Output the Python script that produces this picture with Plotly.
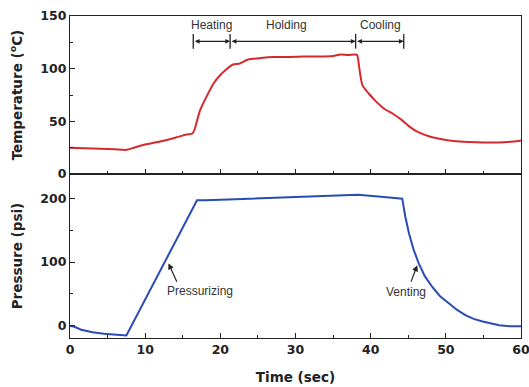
import plotly.graph_objects as go

# Temperature (deg C) vs time (s)
temp_t = [0, 2, 4, 6, 7.5, 8.5, 10, 12, 14, 15.5, 16.3, 16.6, 17.3, 18.2, 19.1, 20.0, 20.9, 21.7, 22.6, 23.6, 24.5, 25.7,
          27, 29, 31, 33, 35, 36, 37, 37.8, 38.2, 38.5, 38.9, 39.8, 40.7, 41.8, 43, 44.2, 45, 46, 47.3, 48.2,
          49.5, 51, 53, 55, 57, 59, 60]
temp_v = [25, 24.5, 24, 23.5, 23, 25, 28, 31, 34.5, 37.5, 38.5, 43, 60.5, 74, 86, 94, 100, 104, 105, 108.5, 109.5, 110.5,
          111, 111, 111.5, 111.5, 112, 113.5, 113, 113.5, 113, 100, 84.5, 76, 69, 62, 57, 51, 46, 41, 37, 35,
          33, 31.5, 30.5, 30, 30, 31, 32]

# Pressure (psi) vs time (s)
pres_t = [0, 0.5, 1.5, 3, 4.5, 6, 7.5, 16.9, 18, 22, 26, 30, 34, 38.3, 41, 44.2, 44.6, 45.1, 45.7, 46.4, 47.2, 48.2,
          49.2, 50.4, 51.5, 52.6, 53.7, 54.9, 56, 57.1, 58.5, 60]
pres_v = [0, -1, -6, -10, -12.5, -14, -15, 197, 197, 198.5, 200.5, 202, 203.5, 205.5, 203, 199.5, 172, 145, 120, 98,
          78, 61, 47, 35, 25, 17, 11, 7, 3.5, 1, -0.5, -0.5]

# Phase labels (top panel)
phase_names = ["Heating", "Holding", "Cooling"]
phase_bounds = [16.4, 21.3, 38.0, 44.4]
phase_label_x = [18.8, 28.8, 41.3]

x_ticks = [0, 10, 20, 30, 40, 50, 60]
temp_ticks = [0, 50, 100, 150]
pres_ticks = [0, 100, 200]

RED = "#d42a2f"
BLUE = "#2a4bb5"
AXC = "#222222"
FONT = "Liberation Sans, Arial, sans-serif"
BOLDFONT = "DejaVu Sans, sans-serif"

fig = go.Figure()
fig.add_trace(go.Scatter(x=temp_t, y=temp_v, mode="lines", line=dict(color=RED, width=2, shape="spline", smoothing=0.6),
                         xaxis="x", yaxis="y", showlegend=False))
fig.add_trace(go.Scatter(x=pres_t, y=pres_v, mode="lines", line=dict(color=BLUE, width=2),
                         xaxis="x2", yaxis="y2", showlegend=False))

axis_common = dict(showgrid=False, zeroline=False, showline=True, linecolor=AXC, linewidth=1.3,
                   mirror=True, ticks="inside", ticklen=5, tickwidth=1.2, tickcolor=AXC, automargin=False,
                   ticklabeloverflow="allow",
                   tickfont=dict(family=BOLDFONT, size=12.5, color="#222", weight="bold"))
minor = dict(ticks="inside", ticklen=3, tickwidth=1, tickcolor=AXC)
title_font = dict(family=BOLDFONT, size=13.5, color="#222", weight="bold")

split = 0.509
fig.update_layout(
    width=529, height=387,
    margin=dict(l=70, r=8, t=16, b=49),
    paper_bgcolor="white", plot_bgcolor="white",
    xaxis=dict(axis_common, range=[0, 60], tickvals=x_ticks, showticklabels=False,
               anchor="y", domain=[0, 1], minor=dict(minor, dtick=5, tick0=0)),
    yaxis=dict(axis_common, range=[0, 150], tickvals=temp_ticks, domain=[split, 1], anchor="x",
               minor=dict(minor, dtick=25, tick0=0),
               title=dict(text="Temperature (<sup>o</sup>C)", standoff=14, font=title_font)),
    xaxis2=dict(axis_common, range=[0, 60], tickvals=x_ticks, anchor="y2", domain=[0, 1],
                minor=dict(minor, dtick=5, tick0=0),
                title=dict(text="Time (sec)", standoff=16, font=title_font)),
    yaxis2=dict(axis_common, range=[-19, 238], tickvals=pres_ticks, domain=[0, split], anchor="x2",
                minor=dict(minor, dtick=50, tick0=0),
                title=dict(text="Pressure (psi)", standoff=14, font=title_font)),
)

ann_font = dict(family=FONT, size=12, color="#333")
arrow_y = 126
# Dimension arrows for phases
for i, name in enumerate(phase_names):
    x0, x1 = phase_bounds[i], phase_bounds[i + 1]
    fig.add_annotation(x=x1, y=arrow_y, ax=x0, ay=arrow_y, xref="x", yref="y", axref="x", ayref="y",
                       text="", showarrow=True, arrowhead=2, arrowside="end+start", arrowsize=0.8,
                       arrowwidth=1.2, arrowcolor="#222", standoff=0, startstandoff=0)
    fig.add_annotation(x=phase_label_x[i], y=141, xref="x", yref="y", text=name, showarrow=False,
                       font=ann_font)
for b in phase_bounds:
    fig.add_shape(type="line", x0=b, x1=b, y0=arrow_y - 7, y1=arrow_y + 7, xref="x", yref="y",
                  line=dict(color="#222", width=1.3))

# Pressure annotations
fig.add_annotation(x=13.1, y=98, ax=14.3, ay=67, xref="x2", yref="y2", axref="x2", ayref="y2",
                   text="", showarrow=True, arrowhead=2, arrowsize=1, arrowwidth=1.2, arrowcolor="#222")
fig.add_annotation(x=17.3, y=55, xref="x2", yref="y2", text="Pressurizing", showarrow=False, font=ann_font)
fig.add_annotation(x=46.2, y=95, ax=45.3, ay=67, xref="x2", yref="y2", axref="x2", ayref="y2",
                   text="", showarrow=True, arrowhead=2, arrowsize=1, arrowwidth=1.2, arrowcolor="#222")
fig.add_annotation(x=44.7, y=53, xref="x2", yref="y2", text="Venting", showarrow=False, font=ann_font)

fig.write_html("out.html", config={"displayModeBar": False},
               post_script="document.body.style.margin='0';document.body.style.overflow='hidden';")
